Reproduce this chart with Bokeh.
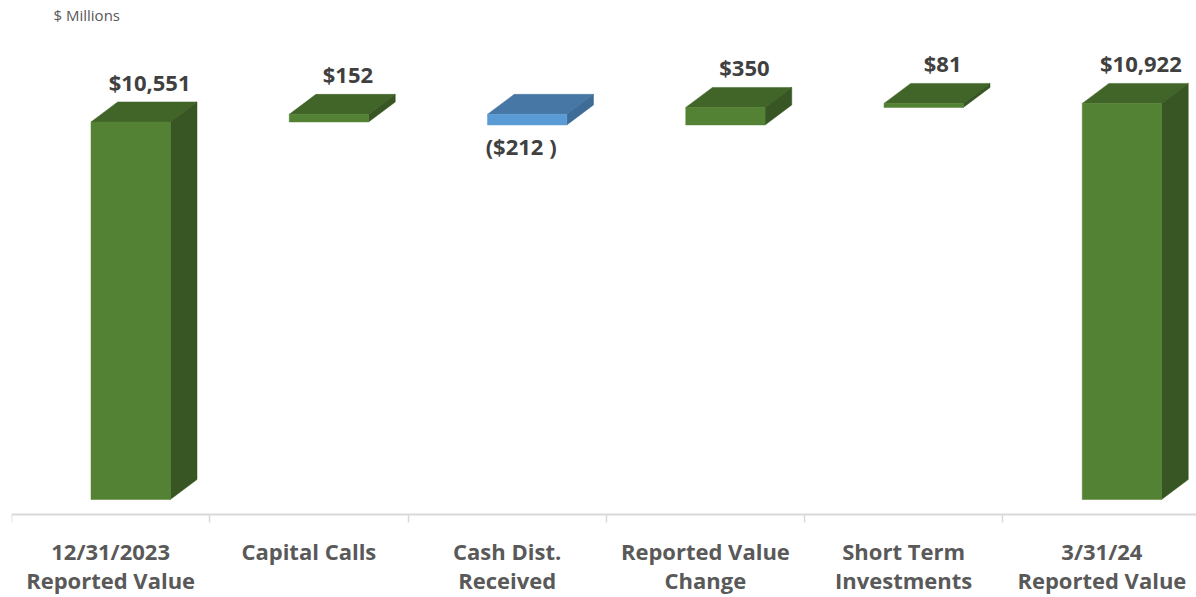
from bokeh.plotting import figure
from bokeh.models import Range1d, LinearAxis, FixedTicker, ColumnDataSource, Label
from bokeh.core.properties import value
from bokeh.embed import file_html
from bokeh.resources import INLINE

# ---------------- data ----------------
categories = ["12/31/2023\nReported Value", "Capital Calls", "Cash Dist.\nReceived",
              "Reported Value\nChange", "Short Term\nInvestments", "3/31/24\nReported Value"]
values = [10551, 152, -212, 350, 81, 10922]
kinds = ["total", "delta", "delta", "delta", "delta", "total"]
unit_label = "$ Millions"
AXIS_MIN = 3000

# ---------------- layout / style ----------------
W, H = 1196, 597
B_LEFT, B_RIGHT = 11, 0
FRAME_W = W - B_LEFT - B_RIGHT
FRAME_H = H
PX_PER_CAT = 198.25
K = 0.05                      # px per value unit
AXIS_FROM_BOTTOM = 83         # px between the axis line and the bottom edge
XMAX = FRAME_W / PX_PER_CAT
YMIN = AXIS_MIN - AXIS_FROM_BOTTOM / K
YMAX = YMIN + FRAME_H / K

BAR_W = 0.4
DEPTH_X = 26.7 / PX_PER_CAT
DEPTH_Y = 20 / K
GAP = 0.75
SHIFT_X = GAP * DEPTH_X
SHIFT_Y = GAP * DEPTH_Y

GREEN = dict(front="#548235", top="#416529", side="#375623")
BLUE = dict(front="#5B9BD5", top="#4677A5", side="#3E6C96")
FONT = "Open Sans"

# ---------------- compute waterfall ----------------
bottoms, tops = [], []
running = 0
for v, k in zip(values, kinds):
    if k == "total":
        bottoms.append(AXIS_MIN)
        tops.append(v)
        running = v
    else:
        nxt = running + v
        bottoms.append(min(running, nxt))
        tops.append(max(running, nxt))
        running = nxt

centers = [i + 0.5 for i in range(len(categories))]

front = dict(left=[], right=[], bottom=[], top=[], color=[])
topf = dict(xs=[], ys=[], color=[])
side = dict(xs=[], ys=[], color=[])
for c, b, t, v in zip(centers, bottoms, tops, values):
    pal = GREEN if v >= 0 else BLUE
    l = c - BAR_W / 2 + SHIFT_X
    r = l + BAR_W
    bb = b + SHIFT_Y
    tt = t + SHIFT_Y
    front["left"].append(l); front["right"].append(r)
    front["bottom"].append(bb); front["top"].append(tt)
    front["color"].append(pal["front"])
    topf["xs"].append([l, r, r + DEPTH_X, l + DEPTH_X])
    topf["ys"].append([tt, tt, tt + DEPTH_Y, tt + DEPTH_Y])
    topf["color"].append(pal["top"])
    side["xs"].append([r, r + DEPTH_X, r + DEPTH_X, r])
    side["ys"].append([bb, bb + DEPTH_Y, tt + DEPTH_Y, tt])
    side["color"].append(pal["side"])

lab = dict(x=[], y=[], text=[])
for c, b, t, v in zip(centers, bottoms, tops, values):
    if v >= 0:
        lab["x"].append(c + 39 / PX_PER_CAT)
        lab["y"].append(t + SHIFT_Y + DEPTH_Y + 20 / K)
        lab["text"].append("${:,}".format(v))
    else:
        lab["x"].append(c + 14 / PX_PER_CAT)
        lab["y"].append(b + SHIFT_Y - 21 / K)
        lab["text"].append("(${:,} )".format(-v))

# ---------------- figure ----------------
p = figure(width=W, height=H, x_range=Range1d(0, XMAX), y_range=Range1d(YMIN, YMAX),
           x_axis_location=None, y_axis_location=None, title=None,
           output_backend="svg", toolbar_location=None,
           min_border_left=B_LEFT, min_border_right=B_RIGHT,
           min_border_top=0, min_border_bottom=0)
p.outline_line_color = None
p.grid.visible = False
p.background_fill_color = "white"
p.border_fill_color = "white"

p.add_layout(Label(x=42 / PX_PER_CAT, y=YMAX - 14.5 / K, text=unit_label,
                   text_font=FONT, text_font_size="15px", text_color="#595959",
                   text_baseline="middle", text_align="left"))

p.patches("xs", "ys", source=ColumnDataSource(topf), fill_color="color", line_color="color", line_width=0.5)
p.patches("xs", "ys", source=ColumnDataSource(side), fill_color="color", line_color="color", line_width=0.5)
p.quad(left="left", right="right", bottom="bottom", top="top", source=ColumnDataSource(front),
       fill_color="color", line_color="color", line_width=0.5)

p.text("x", "y", text="text", source=ColumnDataSource(lab),
       text_font=value(FONT), text_font_size="22px", text_font_style="bold",
       text_color="#404040", text_align="center", text_baseline="middle")

ticker = FixedTicker(ticks=centers, minor_ticks=list(range(len(categories) + 1)))
xaxis = LinearAxis(ticker=ticker, fixed_location=AXIS_MIN)
xaxis.major_label_overrides = {c: lbl for c, lbl in zip(centers, categories)}
xaxis.axis_line_color = "#D9D9D9"
xaxis.axis_line_width = 2
xaxis.major_tick_line_color = None
xaxis.major_tick_out = 0
xaxis.major_tick_in = 0
xaxis.minor_tick_line_color = "#D9D9D9"
xaxis.minor_tick_line_width = 1.5
xaxis.minor_tick_out = 8
xaxis.minor_tick_in = 0
xaxis.major_label_standoff = 13
xaxis.major_label_text_font = FONT
xaxis.major_label_text_font_size = "22px"
xaxis.major_label_text_font_style = "bold"
xaxis.major_label_text_color = "#595959"
xaxis.major_label_text_line_height = 0.98
p.add_layout(xaxis, "below")

open("out.html", "w").write(file_html(p, INLINE))
